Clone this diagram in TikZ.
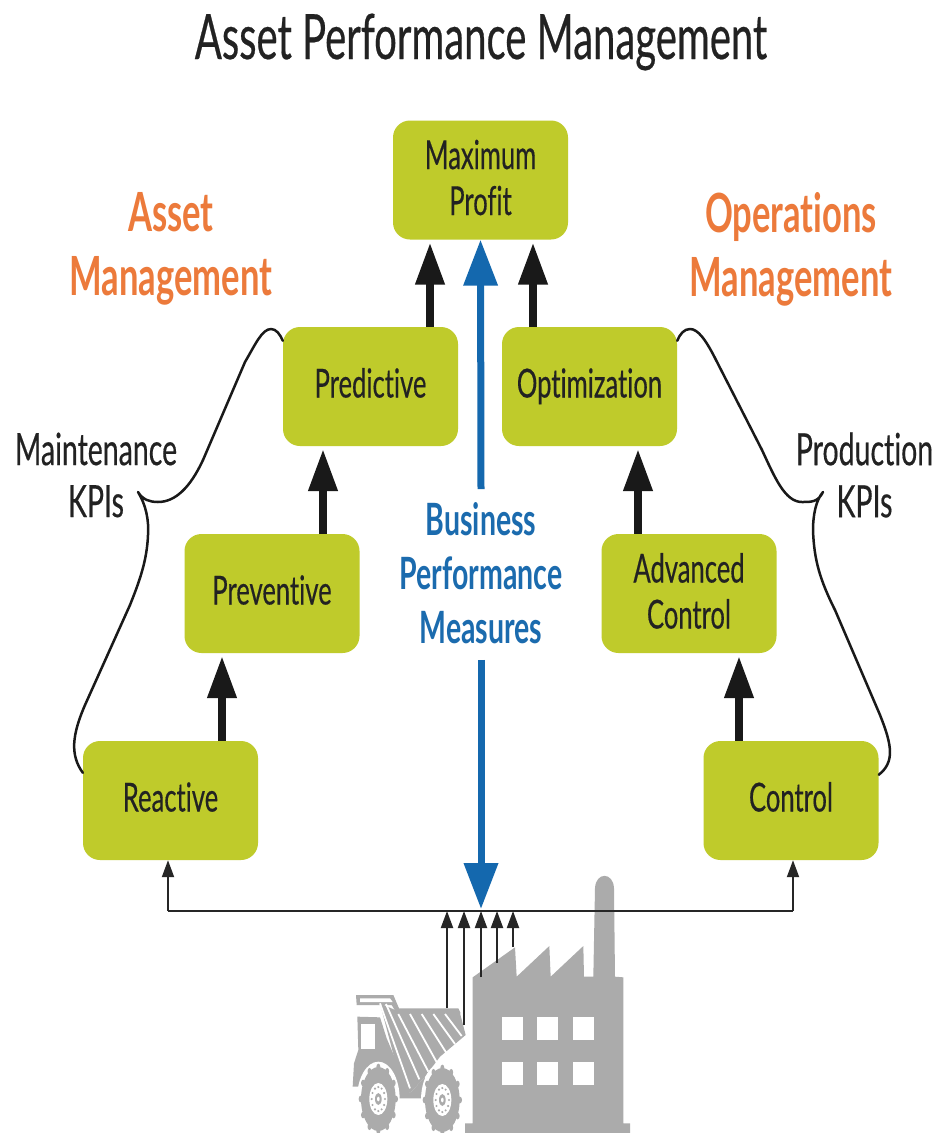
\documentclass[tikz,border=0pt]{standalone}
\usepackage{fontspec}
\setmainfont[FakeStretch=0.64,Ligatures=NoCommon,FakeBold=0.35,BoldFeatures={FakeBold=0}]{Lato}
\usetikzlibrary{arrows.meta,calc}
\definecolor{boxgreen}{HTML}{BFCB2B}
\definecolor{orangetxt}{HTML}{EC7A3B}
\definecolor{bluetxt}{HTML}{1B6BAE}
\definecolor{arrowblue}{HTML}{1468AE}
\definecolor{txtdark}{HTML}{222222}
\definecolor{plantgray}{HTML}{ABABAB}
\tikzset{
  stagebox/.style={fill=boxgreen,rounded corners=17pt,minimum width=175pt,minimum height=119pt,inner sep=0pt,align=center,text=txtdark,text height=30pt,text depth=8pt,font=\fontsize{40}{46}\selectfont},
  twoline/.style={text height=78pt},
  bigarrow/.style={draw=black!90,line width=7.5pt,-{Triangle[width=28pt,length=42pt]},shorten >=3pt},
  bluearrow/.style={draw=arrowblue,line width=7pt,-{Triangle[width=33pt,length=46pt]}},
  thinarrow/.style={draw=black!85,line width=2pt,-{Triangle[width=12pt,length=17pt]}},
  bracecurve/.style={draw=black!90,line width=2.5pt,line cap=round,line join=round},
  sidelabel/.style={inner sep=0pt,align=center,text=txtdark,font=\fontsize{44.5}{52}\selectfont},
  headlabel/.style={inner sep=0pt,align=center,text=orangetxt,font=\fontsize{54}{64}\bfseries\selectfont},
}
\begin{document}
\begin{tikzpicture}[x=1pt,y=-1pt]
\useasboundingbox (0,0) rectangle (937,1133);
\fill[white] (0,0) rectangle (937,1133);

\node[inner sep=0pt,text=txtdark,font=\fontsize{62.5}{66}\selectfont] (title) at (481,42) {Asset Performance Management};

\node[stagebox,twoline] (mp) at (480.5,180) {Maximum\\Profit};
\node[stagebox] (pred) at (370.5,386.5) {Predictive};
\node[stagebox] (opt) at (589.5,386.5) {Optimization};
\node[stagebox] (prev) at (272,593.5) {Preventive};
\node[stagebox,twoline] (adv) at (689,593.5) {Advanced\\Control};
\node[stagebox] (react) at (170.5,800.5) {Reactive};
\node[stagebox] (ctrl) at (791,800.5) {Control};

\node[headlabel] (am) at (171,249) {Asset\\Management};
\node[headlabel] (om) at (791,249) {Operations\\Management};
\node[sidelabel] (mk) at (96,475) {Maintenance\\KPIs};
\node[sidelabel] (pk) at (864.5,475) {Production\\KPIs};
\node[inner sep=0pt,align=center,text=bluetxt,font=\fontsize{44.5}{54}\bfseries\selectfont] (bpm) at (481,573) {Business\\Performance\\Measures};

\draw[bigarrow] ([xshift=59.5]pred.north) -- ([xshift=-50.5]mp.south);
\draw[bigarrow] ([xshift=-56.5]opt.north) -- ([xshift=52.5]mp.south);
\draw[bigarrow] ([xshift=51]prev.north) -- ([xshift=-47.5]pred.south);
\draw[bigarrow] ([xshift=-51]adv.north) -- ([xshift=48.5]opt.south);
\draw[bigarrow] ([xshift=51.5]react.north) -- ([xshift=-50]prev.south);
\draw[bigarrow] ([xshift=-52]ctrl.north) -- ([xshift=50]adv.south);

% business performance arrows
\coordinate (bustee) at (481,909);
\draw[bluearrow] ([yshift=13]bpm.north) -- (mp.south);
\draw[bluearrow] ([yshift=-16]bpm.south) -- (bustee);

% KPI braces
\coordinate (ltip) at (138,492);
\coordinate (rtip) at (823,492);
\draw[bracecurve] ([yshift=-14]pred.north west) .. controls (280,334) and (276,329) .. (271,329)
  .. controls (262,329) and (255,345) .. (245,362)
  -- (203,460) .. controls (190,488) and (175,502) .. (158,502)
  .. controls (150,502) and (143,500) .. (ltip)
  .. controls (146,505) and (149,520) .. (148,535)
  .. controls (147,560) and (140,580) .. (130,605)
  -- (85,705) .. controls (72,735) and (70,755) .. ([yshift=-32]react.north west);
\draw[bracecurve] ([yshift=-14]opt.north east) .. controls (680,334) and (684,329) .. (690,329)
  .. controls (698,329) and (706,340) .. (716,360)
  -- (762,450) .. controls (775,478) and (785,502) .. (802,502)
  .. controls (812,502) and (818,502) .. (rtip)
  .. controls (816,500) and (813,515) .. (813,530)
  .. controls (814,560) and (820,580) .. (835,610)
  -- (880,715) .. controls (892,745) and (895,762) .. ([yshift=-34]ctrl.north east);

% plant
\begin{scope}[shift={(330,860)},x=0.33333pt,y=-0.33333pt]
  % factory
  \fill[plantgray] (428,352) -- (555,262) -- (560,350) -- (658,258) -- (662,350) -- (760,258) -- (762,350) -- (790,350)
    -- (795,85) .. controls (797,35) and (850,35) .. (852,85) -- (855,350) -- (880,352) -- (880,790) -- (900,790) -- (900,819) -- (405,819) -- (405,790) -- (428,790) -- cycle;
  \foreach \wx in {515,622,728}{
    \foreach \wy in {470,605}{
      \fill[white] (\wx,\wy) rectangle ++(63,70);
    }
  }
  % truck bed
  \fill[plantgray] (150,430) -- (200,452) -- (388,452) -- (407,525) -- (330,590) -- (285,650) -- (240,700) -- (205,640) -- cycle;
  % canopy
  \fill[plantgray] (78,405) -- (190,405) -- (207,445) -- (385,445) -- (392,460) -- (200,460) -- (185,435) -- (80,435) -- cycle;
  \fill[white] (90,415) -- (180,415) -- (188,426) -- (90,426) -- cycle;
  % cab and chassis
  \fill[plantgray] (82,470) -- (150,472) -- (170,535) -- (240,700) -- (285,650) -- (280,715) -- (205,715) -- (190,660) -- (150,620) -- (110,630) -- (90,680) -- (68,680) -- (72,610) -- (85,570) -- cycle;
  \fill[white] (92,492) -- (135,492) -- (135,568) -- (92,568) -- cycle;
  % bed stripes
  \foreach \ax/\ay/\bx/\by in {150/430/240/685, 168/432/268/658, 205/462/295/635, 240/462/322/610, 275/462/350/580, 310/462/375/552, 345/462/395/528}{
    \draw[white,line width=1.8pt] (\ax,\ay) -- (\bx,\by);
  }
  % wheels
  \foreach \cx/\cy in {145/717, 337/720}{
    \fill[white] (\cx,\cy) ellipse [x radius=64,y radius=112];
    \fill[plantgray] (\cx,\cy) ellipse [x radius=52,y radius=96];
    \foreach \a in {0,30,...,330}{
      \fill[plantgray] ($(\cx,\cy)+({53*cos(\a)},{96*sin(\a)})$) ellipse [x radius=6,y radius=10];
    }
    \fill[white] (\cx,\cy) ellipse [x radius=27,y radius=48];
    \foreach \a in {0,30,...,330}{
      \fill[plantgray] ($(\cx,\cy)+({20*cos(\a)},{36*sin(\a)})$) circle [radius=3.5];
    }
    \fill[plantgray] (\cx,\cy) ellipse [x radius=10,y radius=18];
    \fill[white] (\cx,\cy) ellipse [x radius=4,y radius=7];
  }
\end{scope}

% sensor feeds
\coordinate (f1) at (447,1008);
\coordinate (f2) at (464,1025);
\coordinate (f3) at (481,977);
\coordinate (f4) at (497,963);
\coordinate (f5) at (513,947);
\coordinate (busl) at (168,911);
\coordinate (busr) at (793,911);
\draw[draw=black!85,line width=2pt] (busl) -- (busr);
\draw[thinarrow] (busl) -- (busl |- react.south);
\draw[thinarrow] (busr) -- (busr |- ctrl.south);
\foreach \f in {f1,f2,f3,f4,f5}{
  \draw[thinarrow] (\f) -- (\f |- busl);
}
\end{tikzpicture}
\end{document}
